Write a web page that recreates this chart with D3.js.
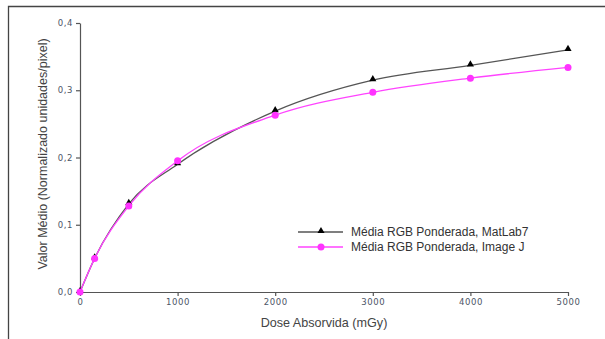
<!DOCTYPE html>
<html>
<head>
<meta charset="utf-8">
<script src="https://cdn.jsdelivr.net/npm/d3@7"></script>
<style>
  body { margin: 0; background: #fff; }
  svg { display: block; font-family: "Liberation Sans", Arial, sans-serif; }
</style>
</head>
<body>
<div id="chart"></div>
<script>
// dados
var doses = [0, 150, 500, 1000, 2000, 3000, 4000, 5000];
var matlab = [0, 0.05, 0.131, 0.19, 0.269, 0.315, 0.337, 0.36];
var imagej = [0, 0.05, 0.128, 0.195, 0.263, 0.297, 0.318, 0.334];
var xTicks = [0, 1000, 2000, 3000, 4000, 5000];
var yTicks = [0, 0.1, 0.2, 0.3, 0.4];
var seriesNames = ["Média RGB Ponderada, MatLab7", "Média RGB Ponderada, Image J"];

var W = 605, H = 339;
var svg = d3.select("#chart").append("svg")
            .attr("width", W)
            .attr("height", H);

// moldura
svg.append("path")
   .attr("d", "M8.5," + H + "V6.5H" + W)
   .attr("fill", "none")
   .attr("stroke", "#444")
   .attr("stroke-width", 1.3);

var x = d3.scaleLinear().domain([0, 5000]).range([80, 568]);
var y = d3.scaleLinear().domain([0, 0.4]).range([292, 23]);

var fmt = function(d) { return d3.format(".1f")(d).replace(".", ","); };

var gx = svg.append("g")
            .attr("transform", "translate(0,292)")
            .call(d3.axisBottom(x).tickValues(xTicks).tickFormat(d3.format("d")).tickSize(4).tickPadding(3).tickSizeOuter(0));
var gy = svg.append("g")
            .attr("transform", "translate(80,0)")
            .call(d3.axisLeft(y).tickValues(yTicks).tickFormat(fmt).tickSize(4).tickPadding(3).tickSizeOuter(0));

[gx, gy].forEach(function(g) {
	g.select(".domain").attr("stroke", "#555").attr("stroke-width", 1.2);
	g.selectAll(".tick line").attr("stroke", "#555").attr("stroke-width", 1.2);
	g.selectAll(".tick text")
	 .attr("fill", "#4c5566")
	 .style("font-size", "8.5px")
	 .style("font-family", "'DejaVu Sans', sans-serif")
	 .style("letter-spacing", "0.6px");
});

// titulos dos eixos
svg.append("text")
   .attr("x", 324)
   .attr("y", 327)
   .attr("text-anchor", "middle")
   .attr("fill", "#444")
   .style("font-size", "12.6px")
   .text("Dose Absorvida (mGy)");
svg.append("text")
   .attr("transform", "translate(47,154) rotate(-90)")
   .attr("text-anchor", "middle")
   .attr("fill", "#444")
   .style("font-size", "12.5px")
   .text("Valor Médio (Normalizado unidades/pixel)");

var line = d3.line()
             .x(function(d, i) { return x(doses[i]); })
             .y(function(d) { return y(d); })
             .curve(d3.curveMonotoneX);

// MatLab7
svg.append("path")
   .attr("d", line(matlab))
   .attr("fill", "none")
   .attr("stroke", "#555")
   .attr("stroke-width", 1.3);
// Image J
svg.append("path")
   .attr("d", line(imagej))
   .attr("fill", "none")
   .attr("stroke", "#ff44ff")
   .attr("stroke-width", 1.3);

var tri = d3.symbol().type(d3.symbolTriangle).size(22);
svg.selectAll(".tri")
   .data(matlab)
   .enter().append("path")
   .attr("class", "tri")
   .attr("d", tri)
   .attr("transform", function(d, i) { return "translate(" + x(doses[i]) + "," + (y(d) - 1) + ")"; })
   .attr("fill", "#000");

svg.selectAll(".dot")
   .data(imagej)
   .enter().append("circle")
   .attr("class", "dot")
   .attr("cx", function(d, i) { return x(doses[i]); })
   .attr("cy", function(d) { return y(d); })
   .attr("r", 3.5)
   .attr("fill", "#ff33ff");

// legenda
var legend = svg.append("g");
var colors = ["#555", "#ff44ff"];
seriesNames.forEach(function(name, i) {
	var ly = 232 + i * 15;
	legend.append("line")
	      .attr("x1", 298).attr("x2", 343)
	      .attr("y1", ly).attr("y2", ly)
	      .attr("stroke", colors[i])
	      .attr("stroke-width", 1.3);
	if (i == 0)
		legend.append("path")
		      .attr("d", tri)
		      .attr("transform", "translate(321," + (ly - 1) + ")")
		      .attr("fill", "#000");
	else
		legend.append("circle")
		      .attr("cx", 321).attr("cy", ly).attr("r", 3.5)
		      .attr("fill", "#ff33ff");
	legend.append("text")
	      .attr("x", 351)
	      .attr("y", ly + 4)
	      .attr("fill", "#333")
	      .style("font-size", "12px")
	      .text(name);
});
</script>
</body>
</html>
